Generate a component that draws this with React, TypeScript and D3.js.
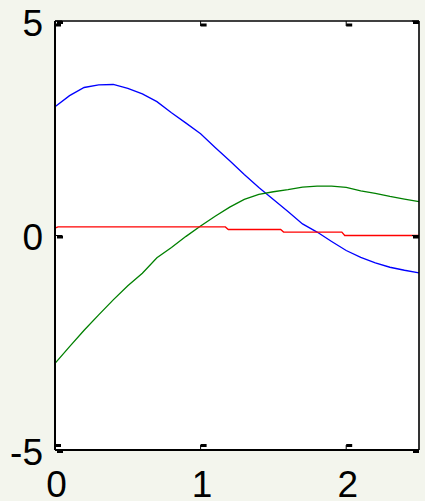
import React from 'react';
import * as d3 from 'd3';

// sample positions along x
const xs = [0, 0.1, 0.2, 0.3, 0.4, 0.5, 0.6, 0.7, 0.8, 0.9, 1.0, 1.1, 1.2, 1.3, 1.4, 1.5, 1.6, 1.7, 1.8, 1.9, 2.0, 2.1, 2.2, 2.3, 2.4, 2.5];
const blue = [3.0, 3.26, 3.45, 3.51, 3.52, 3.43, 3.3, 3.12, 2.86, 2.62, 2.37, 2.05, 1.74, 1.42, 1.12, 0.84, 0.56, 0.27, 0.08, -0.14, -0.35, -0.51, -0.64, -0.74, -0.81, -0.87];
const green = [-2.98, -2.59, -2.21, -1.85, -1.5, -1.17, -0.88, -0.52, -0.28, -0.02, 0.22, 0.45, 0.66, 0.84, 0.96, 1.02, 1.07, 1.13, 1.15, 1.15, 1.12, 1.04, 0.98, 0.91, 0.85, 0.79];
// red is nearly flat, only steps down a little
const redX = [0, 0.02, 1.17, 1.19, 1.55, 1.57, 1.97, 1.99, 2.5];
const red = [0.17, 0.2, 0.2, 0.14, 0.14, 0.08, 0.08, 0.0, 0.0];

const xTicks = [0, 1, 2];
const yTicks = [-5, 0, 5];

const W = 425;
const H = 501;

const App = () => {
  const x = d3.scaleLinear().domain([0, 2.5]).range([55, 419]);
  const y = d3.scaleLinear().domain([-5, 5]).range([450, 21]);

  const line = d3.line<[number, number]>().x((d) => x(d[0])).y((d) => y(d[1]));

  const series = [
    { color: '#0000ff', pts: xs.map((v, i) => [v, blue[i]] as [number, number]) },
    { color: '#008000', pts: xs.map((v, i) => [v, green[i]] as [number, number]) },
    { color: '#ff0000', pts: redX.map((v, i) => [v, red[i]] as [number, number]) },
  ];

  const [x0, x1] = x.range();
  const [y0, y1] = y.range(); // y0 bottom, y1 top
  const font = '"Liberation Sans", Arial, sans-serif';

  return (
    <svg width={W} height={H} style={{ position: 'absolute', left: 0, top: 0 }}>
      <rect width={W} height={H} fill="#f3f5ed" />
      <rect x={x0} y={y1} width={x1 - x0} height={y0 - y1} fill="#ffffff" />

      {series.map((s) => (
        <path key={s.color} d={line(s.pts) || ''} fill="none" stroke={s.color} strokeWidth={1.3} />
      ))}

      {/* frame */}
      <line x1={x0} x2={x1} y1={y1} y2={y1} stroke="#404040" strokeWidth={2} />
      <line x1={x0} x2={x0} y1={y1} y2={y0} stroke="#000" strokeWidth={2} />
      <line x1={x1} x2={x1} y1={y1} y2={y0} stroke="#000" strokeWidth={1.6} />
      <line x1={x0} x2={x1} y1={y0} y2={y0} stroke="#000" strokeWidth={2} />

      {/* ticks, drawn inside */}
      {xTicks.map((t) => (
        <g key={'xt' + t}>
          <line x1={x(t)} x2={x(t)} y1={y1} y2={y1 + 5} stroke="#000" strokeWidth={1} />
          <rect x={x(t)} y={y1 + 2.5} width={6} height={3} fill="#000" />
          <line x1={x(t)} x2={x(t)} y1={y0} y2={y0 - 5} stroke="#000" strokeWidth={1} />
          <rect x={x(t)} y={y0 - 6} width={6} height={3} fill="#000" />
        </g>
      ))}
      {yTicks.map((t) => (
        <g key={'yt' + t}>
          <line x1={x0} x2={x0 + 7} y1={y(t)} y2={y(t)} stroke="#000" strokeWidth={1} />
          <rect x={x0 + 2} y={y(t)} width={6} height={3} fill="#000" />
          <line x1={x1} x2={x1 - 7} y1={y(t)} y2={y(t)} stroke="#000" strokeWidth={1} />
          <rect x={x1 - 6} y={y(t)} width={6} height={3} fill="#000" />
        </g>
      ))}

      {/* labels */}
      {yTicks.map((t) => (
        <text key={'yl' + t} x={43} y={y(t) + 14.5} textAnchor="end" fontFamily={font} fontSize={37} fill="#000">
          {t}
        </text>
      ))}
      {xTicks.map((t) => (
        <text key={'xl' + t} x={x(t) + 1.5} y={497} textAnchor="middle" fontFamily={font} fontSize={37} fill="#000">
          {t}
        </text>
      ))}
    </svg>
  );
};

export default App;
